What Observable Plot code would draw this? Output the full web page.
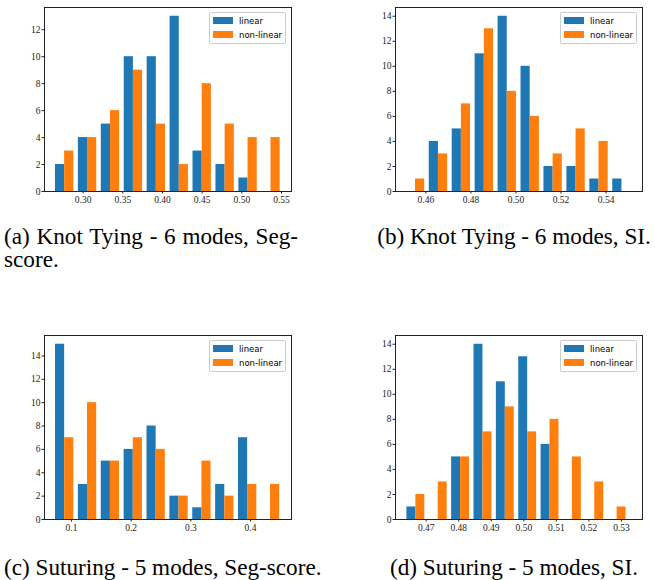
<!DOCTYPE html>
<html>
<head>
<meta charset="utf-8">
<script src="https://cdn.jsdelivr.net/npm/d3@7"></script>
<script src="https://cdn.jsdelivr.net/npm/@observablehq/plot@0.6"></script>
<style>
  html, body { margin: 0; padding: 0; background: white; }
  #root { position: relative; width: 655px; height: 580px; background: white; overflow: hidden; }
  .panel { position: absolute; }
  .legend { position: absolute; box-sizing: border-box; width: 77px; height: 32px; border: 1px solid #cccccc; border-radius: 2px; background: white; font-family: "DejaVu Sans", sans-serif; font-size: 8.5px; color: #000; }
  .legend .sw { position: absolute; left: 3px; width: 20px; height: 7px; }
  .legend .lb { position: absolute; left: 29px; line-height: 10px; }
  .cap { position: absolute; font-family: "Liberation Serif", "Times New Roman", serif; font-size: 23.2px; line-height: 23px; color: #000; }
</style>
</head>
<body>
<div id="root"></div>
<script>
// ---- data ----
const series = ["linear", "non-linear"];
const colors = ["#1f77b4", "#ff7f0e"];

// (a) Knot Tying - 6 modes, Seg-score
const aLinear    = [2, 4, 5, 10, 10, 13, 3, 2, 1, 0];
const aNonLinear = [3, 4, 6, 9, 5, 2, 8, 5, 4, 4];
const aBinRange  = [0.2622, 0.5512];
const aXDomain   = [0.2513, 0.5626];
const aXTicks    = [0.30, 0.35, 0.40, 0.45, 0.50, 0.55];
const aYTicks    = [0, 2, 4, 6, 8, 10, 12];

// (b) Knot Tying - 6 modes, SI
const bLinear    = [0, 4, 5, 11, 14, 10, 2, 2, 1, 1];
const bNonLinear = [1, 3, 7, 13, 8, 6, 3, 5, 4, 0];
const bBinRange  = [0.45028, 0.55214];
const bXDomain   = [0.44649, 0.55618];
const bXTicks    = [0.46, 0.48, 0.50, 0.52, 0.54];
const bYTicks    = [0, 2, 4, 6, 8, 10, 12, 14];

// (c) Suturing - 5 modes, Seg-score
const cLinear    = [15, 3, 5, 6, 8, 2, 1, 3, 7, 0];
const cNonLinear = [7, 10, 5, 7, 6, 2, 5, 2, 3, 3];
const cBinRange  = [0.06935, 0.45273];
const cXDomain   = [0.05475, 0.46872];
const cXTicks    = [0.1, 0.2, 0.3, 0.4];
const cYTicks    = [0, 2, 4, 6, 8, 10, 12, 14];

// (d) Suturing - 5 modes, SI
const dLinear    = [1, 0, 5, 14, 11, 13, 6, 0, 0, 0];
const dNonLinear = [2, 3, 5, 7, 9, 7, 8, 5, 3, 1];
const dBinRange  = [0.46339, 0.53211];
const dXDomain   = [0.46057, 0.53647];
const dXTicks    = [0.47, 0.48, 0.49, 0.50, 0.51, 0.52, 0.53];
const dYTicks    = [0, 2, 4, 6, 8, 10, 12, 14];

const captions = [
  "(a) Knot Tying - 6 modes, Seg-score.",
  "(b) Knot Tying - 6 modes, SI.",
  "(c) Suturing - 5 modes, Seg-score.",
  "(d) Suturing - 5 modes, SI."
];

// ---- drawing ----
const root = document.getElementById("root");

function histPanel(cfg) {
  const counts = [cfg.linear, cfg.nonLinear];
  const n = cfg.linear.length;
  const w = (cfg.binRange[1] - cfg.binRange[0]) / n;
  const rows = [];
  counts.forEach((arr, s) => arr.forEach((c, i) => {
    if (c > 0) {
      const lo = cfg.binRange[0] + i * w;
      rows.push({
        series: series[s],
        x1: lo + (0.1 + 0.4 * s) * w,
        x2: lo + (0.5 + 0.4 * s) * w,
        count: c
      });
    }
  }));
  const ymax = Math.max(...cfg.linear, ...cfg.nonLinear) * 1.05;
  return Plot.plot({
    width: cfg.width,
    height: 210,
    marginTop: 7,
    marginBottom: 19,
    marginLeft: cfg.marginLeft,
    marginRight: cfg.marginRight,
    style: { fontFamily: "'Liberation Serif', 'DejaVu Serif', serif", fontSize: "9.5px", color: "#222", background: "white", overflow: "visible" },
    x: { domain: cfg.xDomain, ticks: cfg.xTicks, tickFormat: d3.format(cfg.xFormat), label: null, tickSize: 2.5, tickPadding: 2 },
    y: { domain: [0, ymax], ticks: cfg.yTicks, tickFormat: d3.format("d"), label: null, tickSize: 2.5, tickPadding: 1.5 },
    color: { domain: series, range: colors },
    marks: [
      Plot.rect(rows, { x1: "x1", x2: "x2", y1: () => 0, y2: "count", fill: "series" }),
      Plot.frame({ stroke: "#222", strokeWidth: 1 })
    ]
  });
}

function addPanel(left, top, width, cfg) {
  const div = document.createElement("div");
  div.className = "panel";
  div.style.left = left + "px";
  div.style.top = top + "px";
  div.appendChild(histPanel({ ...cfg, width }));
  root.appendChild(div);

  // legend in upper-right corner of the axes frame
  const lg = document.createElement("div");
  lg.className = "legend";
  const frameRight = left + width - cfg.marginRight;
  lg.style.left = (frameRight - 5 - 77) + "px";
  lg.style.top = (top + 7 + 5) + "px";
  series.forEach((s, i) => {
    const sw = document.createElement("div");
    sw.className = "sw";
    sw.style.top = (4 + i * 14.3) + "px";
    sw.style.background = colors[i];
    lg.appendChild(sw);
    const lb = document.createElement("div");
    lb.className = "lb";
    lb.style.top = (2.8 + i * 14.3) + "px";
    lb.textContent = s;
    lg.appendChild(lb);
  });
  root.appendChild(lg);
}

addPanel(0, 0, 328, { linear: aLinear, nonLinear: aNonLinear, binRange: aBinRange, xDomain: aXDomain, xTicks: aXTicks, xFormat: ".2f", yTicks: aYTicks, marginLeft: 44, marginRight: 37 });
addPanel(328, 0, 327, { linear: bLinear, nonLinear: bNonLinear, binRange: bBinRange, xDomain: bXDomain, xTicks: bXTicks, xFormat: ".2f", yTicks: bYTicks, marginLeft: 67, marginRight: 13 });
addPanel(0, 328, 328, { linear: cLinear, nonLinear: cNonLinear, binRange: cBinRange, xDomain: cXDomain, xTicks: cXTicks, xFormat: ".1f", yTicks: cYTicks, marginLeft: 44, marginRight: 37 });
addPanel(328, 328, 327, { linear: dLinear, nonLinear: dNonLinear, binRange: dBinRange, xDomain: dXDomain, xTicks: dXTicks, xFormat: ".2f", yTicks: dYTicks, marginLeft: 67, marginRight: 13 });

function addCaption(text, left, top, width, align) {
  const c = document.createElement("div");
  c.className = "cap";
  c.style.left = left + "px";
  c.style.top = top + "px";
  c.style.width = width + "px";
  c.style.textAlign = align;
  if (align !== "justify") c.style.whiteSpace = "nowrap";
  c.textContent = text;
  root.appendChild(c);
}
addCaption(captions[0], 4, 225, 294, "justify");
addCaption(captions[1], 351, 225, 326, "center");
addCaption(captions[2], 4, 556, 330, "left");
addCaption(captions[3], 351, 556, 326, "center");
</script>
</body>
</html>
